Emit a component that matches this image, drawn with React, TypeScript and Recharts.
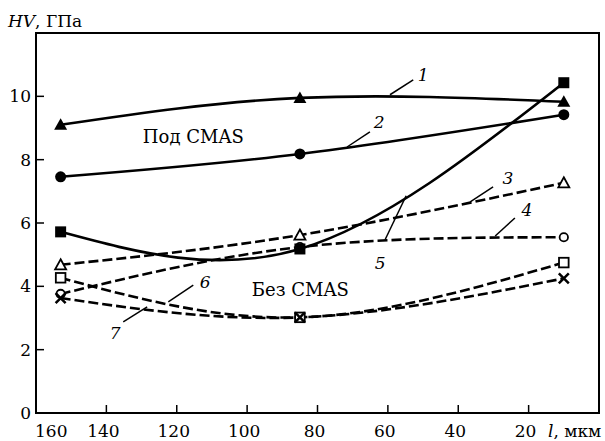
import React from 'react';
import {
  LineChart,
  Line,
  XAxis,
  YAxis,
  ReferenceArea,
  ReferenceLine,
  ReferenceDot,
} from 'recharts';

// l, мкм
const lengths = [153, 85, 10];
// HV, ГПа
const hv1 = [9.1, 9.95, 9.83];
const hv2 = [7.46, 8.18, 9.42];
const hv3 = [4.68, 5.62, 7.27];
const hv4 = [3.76, 5.24, 5.55];
const hv5 = [5.72, 5.18, 10.43];
const hv6 = [4.27, 3.02, 4.75];
const hv7 = [3.63, 3.02, 4.25];

const xTicks = [20, 40, 60, 80, 100, 120, 140, 160];
const yTicks = [0, 2, 4, 6, 8, 10];

const rows = lengths.map((l, i) => ({
  l,
  s1: hv1[i],
  s2: hv2[i],
  s3: hv3[i],
  s4: hv4[i],
  s5: hv5[i],
  s6: hv6[i],
  s7: hv7[i],
}));

// curve number leaders: from a to b, number at t
const leaders = [
  { n: '1', a: [59.4, 10.05], b: [52.8, 10.52], t: [50, 10.68] },
  { n: '2', a: [71.6, 8.4], b: [65.1, 8.88], t: [62.5, 9.19] },
  { n: '3', a: [36.6, 6.67], b: [30.1, 7.14], t: [25.9, 7.42] },
  { n: '4', a: [29.5, 5.59], b: [23.9, 6.16], t: [20.5, 6.41] },
  { n: '5', a: [54.8, 6.86], b: [60.8, 5.47], t: [62.2, 4.74] },
  { n: '6', a: [122.4, 3.51], b: [115.3, 4.04], t: [111.9, 4.14] },
  { n: '7', a: [128.4, 3.35], b: [135.2, 2.88], t: [137.5, 2.53] },
];

const serif = { fontFamily: '"DejaVu Serif", "Liberation Serif", serif' };

const mark = (kind: string) => (p: any) => {
  const { cx, cy, index } = p;
  if (cx == null || cy == null) return <g key={index} />;
  const k = `${kind}-${index}`;
  switch (kind) {
    case 'triF':
      return <path key={k} d={`M${cx},${cy - 6.5}L${cx + 6.5},${cy + 5}L${cx - 6.5},${cy + 5}Z`} fill="#000" />;
    case 'triO':
      return (
        <path key={k} d={`M${cx},${cy - 5.5}L${cx + 5.5},${cy + 4.5}L${cx - 5.5},${cy + 4.5}Z`}
          fill="#fff" stroke="#000" strokeWidth={1.8} />
      );
    case 'cirF':
      return <circle key={k} cx={cx} cy={cy} r={5.5} fill="#000" />;
    case 'cirO':
      return <circle key={k} cx={cx} cy={cy} r={4.2} fill="#fff" stroke="#000" strokeWidth={1.8} />;
    case 'sqF':
      return <rect key={k} x={cx - 5.5} y={cy - 5.5} width={11} height={11} fill="#000" />;
    case 'sqO':
      return <rect key={k} x={cx - 4.8} y={cy - 4.8} width={9.6} height={9.6} fill="#fff" stroke="#000" strokeWidth={1.8} />;
    default:
      return (
        <path key={k} d={`M${cx - 5},${cy - 5}L${cx + 5},${cy + 5}M${cx - 5},${cy + 5}L${cx + 5},${cy - 5}`}
          stroke="#000" strokeWidth={2.5} />
      );
  }
};

const YTick = (p: any) => {
  const { x, y, payload } = p;
  return (
    <g>
      <line x1={x} y1={y} x2={x + 8} y2={y} stroke="#000" strokeWidth={1.5} />
      <text x={x - 5} y={y + 6} textAnchor="end" fontSize={17} style={serif} fill="#000">
        {payload.value}
      </text>
    </g>
  );
};

const XTick = (p: any) => {
  const { x, y, payload } = p;
  const first = payload.value === 160;
  return (
    <g>
      <line x1={x} y1={y} x2={x} y2={y - 8} stroke="#000" strokeWidth={1.5} />
      <text x={first ? x - 1 : x - 3} y={y + 24} textAnchor={first ? 'start' : 'middle'}
        fontSize={17} style={serif} fill="#000">
        {payload.value}
      </text>
    </g>
  );
};

const solid = { stroke: '#000', strokeWidth: 2.6, type: 'natural' as const };
const dashed = { ...solid, strokeDasharray: '10 4' };

export default function App() {
  return (
    <div style={{ position: 'absolute', left: 0, top: 0, width: 605, height: 441, background: '#fff' }}>
      <LineChart width={605} height={441} data={rows} margin={{ top: 33, right: 6, bottom: 0, left: 0 }}>
        <XAxis dataKey="l" type="number" domain={[0, 160]} reversed ticks={xTicks} interval={0}
          height={28} tickSize={0} tickMargin={0} tick={<XTick />} axisLine={{ stroke: '#000', strokeWidth: 2 }} />
        <YAxis type="number" domain={[0, 12]} ticks={yTicks} interval={0} width={36}
          tickSize={0} tickMargin={0} tick={<YTick />} axisLine={{ stroke: '#000', strokeWidth: 2 }} />
        <ReferenceArea x1={0} x2={160} y1={0} y2={12} fill="none" stroke="#000" strokeWidth={2} />
        <Line dataKey="s3" {...dashed} dot={mark('triO')} isAnimationActive={false} />
        <Line dataKey="s4" {...dashed} dot={mark('cirO')} isAnimationActive={false} />
        <Line dataKey="s6" {...dashed} dot={mark('sqO')} isAnimationActive={false} />
        <Line dataKey="s7" {...dashed} dot={mark('x')} isAnimationActive={false} />
        <Line dataKey="s1" {...solid} dot={mark('triF')} isAnimationActive={false} />
        <Line dataKey="s2" {...solid} dot={mark('cirF')} isAnimationActive={false} />
        <Line dataKey="s5" {...solid} dot={mark('sqF')} isAnimationActive={false} />
        {leaders.map((d) => (
          <ReferenceLine key={`l${d.n}`} segment={[{ x: d.a[0], y: d.a[1] }, { x: d.b[0], y: d.b[1] }]}
            stroke="#000" strokeWidth={1.5} />
        ))}
        {leaders.map((d) => (
          <ReferenceDot key={`t${d.n}`} x={d.t[0]} y={d.t[1]} r={0}
            shape={(p: any) => (
              <text x={p.cx} y={p.cy + 6} textAnchor="middle" fontSize={17} fontStyle="italic"
                style={serif} fill="#000">{d.n}</text>
            )} />
        ))}
        <ReferenceDot x={115.3} y={8.72} r={0}
          shape={(p: any) => (
            <text x={p.cx} y={p.cy + 6} textAnchor="middle" fontSize={18}
              style={serif} fill="#000">Под CMAS</text>
          )} />
        <ReferenceDot x={84.9} y={3.89} r={0}
          shape={(p: any) => (
            <text x={p.cx} y={p.cy + 6} textAnchor="middle" fontSize={18}
              style={serif} fill="#000">Без CMAS</text>
          )} />
        <text x={8} y={27} fontSize={17} style={serif} fill="#000">
          <tspan fontStyle="italic">HV</tspan>
          <tspan>, ГПа</tspan>
        </text>
        <text x={548} y={437} fontSize={17} style={serif} fill="#000">
          <tspan fontStyle="italic">l</tspan>
          <tspan>, мкм</tspan>
        </text>
      </LineChart>
    </div>
  );
}
